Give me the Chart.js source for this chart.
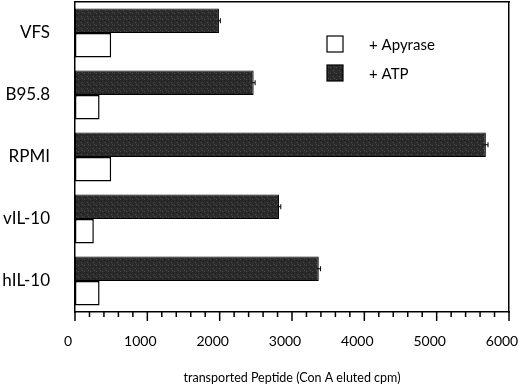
<!DOCTYPE html>
<html>
<head>
<meta charset="utf-8">
<script src="https://cdn.jsdelivr.net/npm/chart.js@4.4.0/dist/chart.umd.min.js"></script>
<style>
  html, body { margin: 0; padding: 0; background: #fff; }
  canvas { display: block; }
</style>
</head>
<body>
<canvas id="chart" width="520" height="385"></canvas>
<script>
  const categories = ['VFS', 'B95.8', 'RPMI', 'vIL-10', 'hIL-10'];
  const atpValues = [1990, 2470, 5680, 2820, 3370];
  const atpErrors = [20, 20, 30, 25, 25];
  const apyraseValues = [500, 340, 500, 260, 340];
  const xTicks = [0, 1000, 2000, 3000, 4000, 5000, 6000];

  const FONT = 'Lato, "Open Sans", sans-serif';

  // dark stippled fill like the scanned bars
  function makeDarkPattern() {
    const p = document.createElement('canvas');
    p.width = 6; p.height = 6;
    const g = p.getContext('2d');
    g.fillStyle = '#2b2b2b';
    g.fillRect(0, 0, 6, 6);
    g.fillStyle = '#4a4a4a';
    g.fillRect(0, 1, 1, 1);
    g.fillRect(3, 4, 1, 1);
    g.fillRect(4, 0, 1, 1);
    g.fillStyle = '#1c1c1c';
    g.fillRect(2, 2, 1, 1);
    g.fillRect(5, 3, 1, 1);
    return g.createPattern(p, 'repeat');
  }
  const darkFill = makeDarkPattern();

  // minor/major ticks under the x axis
  const tickPlugin = {
    id: 'minorTicks',
    afterDraw(chart) {
      const ctx = chart.ctx;
      const x = chart.scales.x;
      const b = chart.scales.y.bottom;
      ctx.save();
      ctx.strokeStyle = '#000';
      ctx.lineWidth = 1.5;
      for (let v = 0; v <= 6000; v += 200) {
        const px = x.getPixelForValue(v);
        const len = (v % 1000 === 0) ? 9 : 5;
        ctx.beginPath();
        ctx.moveTo(px, b);
        ctx.lineTo(px, b + len);
        ctx.stroke();
      }
      ctx.restore();
    }
  };

  // error whiskers on the ATP bars
  const errorPlugin = {
    id: 'errorWhiskers',
    afterDatasetsDraw(chart) {
      const ctx = chart.ctx;
      const x = chart.scales.x;
      const meta = chart.getDatasetMeta(0);
      ctx.save();
      ctx.strokeStyle = '#000';
      ctx.lineWidth = 1;
      meta.data.forEach((bar, i) => {
        const x0 = x.getPixelForValue(atpValues[i] - atpErrors[i]);
        const x1 = x.getPixelForValue(atpValues[i] + atpErrors[i]);
        const yy = bar.y;
        ctx.beginPath();
        ctx.moveTo(x0, yy); ctx.lineTo(x1, yy);
        ctx.moveTo(x1, yy - 2.5); ctx.lineTo(x1, yy + 2.5);
        ctx.stroke();
      });
      ctx.restore();
    }
  };

  // legend inside the plot, top right
  const legendPlugin = {
    id: 'boxLegend',
    afterDraw(chart) {
      const ctx = chart.ctx;
      const items = [chart.data.datasets[1], chart.data.datasets[0]];
      ctx.save();
      ctx.font = '15px ' + FONT;
      ctx.textBaseline = 'middle';
      items.forEach((ds, i) => {
        const bx = 327, by = 36 + i * 29;
        ctx.fillStyle = ds.backgroundColor;
        ctx.fillRect(bx, by, 16, 16);
        ctx.strokeStyle = '#000';
        ctx.lineWidth = 1.2;
        ctx.strokeRect(bx, by, 16, 16);
        ctx.fillStyle = '#000';
        ctx.fillText(ds.label, 369, by + 9);
      });
      ctx.restore();
    }
  };

  function noPad(scale) {
    scale.paddingTop = 0;
    scale.paddingBottom = 0;
    scale.paddingLeft = 0;
    scale.paddingRight = 0;
  }

  new Chart(document.getElementById('chart'), {
    type: 'bar',
    data: {
      labels: categories,
      datasets: [
        {
          label: '+ ATP',
          data: atpValues,
          backgroundColor: darkFill,
          borderColor: '#000',
          borderWidth: 1,
          borderSkipped: false
        },
        {
          label: '+ Apyrase',
          data: apyraseValues,
          backgroundColor: '#fff',
          borderColor: '#000',
          borderWidth: 1.5,
          borderSkipped: false
        }
      ]
    },
    options: {
      indexAxis: 'y',
      responsive: false,
      devicePixelRatio: 1,
      animation: false,
      layout: { padding: { top: 2, right: 11, bottom: 0, left: 0 } },
      datasets: { bar: { categoryPercentage: 0.79, barPercentage: 1.0 } },
      plugins: {
        legend: { display: false },
        tooltip: { enabled: false }
      },
      scales: {
        x: {
          type: 'linear',
          min: 0,
          max: 6000,
          afterBuildTicks(scale) {
            scale.ticks = xTicks.map(v => ({ value: v }));
          },
          afterFit(scale) { scale.height = 73; noPad(scale); },
          grid: { display: false, drawTicks: false },
          border: { display: true, color: '#000', width: 1.5 },
          ticks: {
            padding: 21,
            labelOffset: -7,
            color: '#000',
            font: { family: FONT, size: 14 },
            maxRotation: 0,
            callback: v => String(v)
          },
          title: {
            display: true,
            text: 'transported Peptide (Con A eluted cpm)',
            color: '#000',
            font: { family: FONT, size: 12.5 },
            padding: { top: 0, bottom: 0 }
          }
        },
        xTop: {
          type: 'linear',
          position: 'top',
          display: true,
          min: 0,
          max: 6000,
          afterFit(scale) { scale.height = 0; noPad(scale); },
          grid: { display: false, drawTicks: false },
          border: { display: true, color: '#000', width: 1.5 },
          ticks: { display: false }
        },
        y: {
          afterFit(scale) { scale.width = 75; noPad(scale); },
          grid: { display: false, drawTicks: false },
          border: { display: true, color: '#000', width: 1.5 },
          ticks: {
            padding: 25,
            color: '#000',
            font: { family: FONT, size: 17 }
          }
        },
        yRight: {
          type: 'category',
          position: 'right',
          display: true,
          afterFit(scale) { scale.width = 0; noPad(scale); },
          grid: { display: false, drawTicks: false },
          border: { display: true, color: '#000', width: 1.5 },
          ticks: { display: false }
        }
      }
    },
    plugins: [tickPlugin, errorPlugin, legendPlugin]
  });
</script>
</body>
</html>
